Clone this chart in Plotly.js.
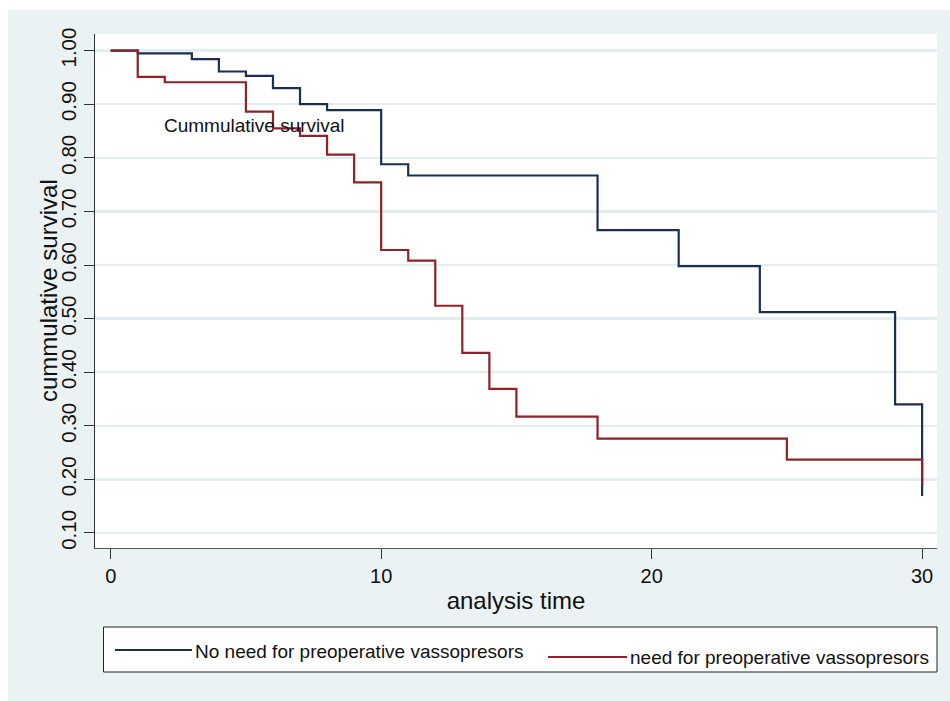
<!DOCTYPE html>
<html>
<head>
<meta charset="utf-8">
<script src="https://cdn.plot.ly/plotly-3.0.1.min.js"></script>
<style>html,body{margin:0;padding:0;background:#fff;}#chart{width:950px;height:701px;}</style>
</head>
<body>
<div id="chart"></div>
<script>
// Kaplan-Meier step data
var timeNoNeed = [0, 1, 3, 4, 5, 6, 7, 8, 10, 11, 18, 21, 24, 29, 30];
var survNoNeed = [1.00, 0.995, 0.984, 0.961, 0.953, 0.930, 0.900, 0.889, 0.788, 0.767, 0.665, 0.598, 0.512, 0.340, 0.169];
var timeNeed = [0, 1, 2, 5, 6, 7, 8, 9, 10, 11, 12, 13, 14, 15, 18, 25, 30];
var survNeed = [1.00, 0.951, 0.941, 0.886, 0.855, 0.841, 0.806, 0.754, 0.628, 0.608, 0.524, 0.436, 0.369, 0.317, 0.276, 0.237, 0.187];
var seriesNames = ["No need for preoperative vassopresors", "need for preoperative vassopresors"];
var xTicks = [0, 10, 20, 30];
var yTicks = [0.1, 0.2, 0.3, 0.4, 0.5, 0.6, 0.7, 0.8, 0.9, 1.0];
var yTickText = ["0.10", "0.20", "0.30", "0.40", "0.50", "0.60", "0.70", "0.80", "0.90", "1.00"];

var BLUE = "#1b2f55", RED = "#8e2228";
var FONT = "Liberation Sans, Arial, sans-serif";

var traces = [
  {x: timeNoNeed, y: survNoNeed, mode: "lines", line: {shape: "hv", color: BLUE, width: 2.2}, name: seriesNames[0], showlegend: false},
  {x: timeNeed, y: survNeed, mode: "lines", line: {shape: "hv", color: RED, width: 2.2}, name: seriesNames[1], showlegend: false}
];

function px(x){ return (x - 95) / 842; }
function py(y){ return (548 - y) / 514; }

var layout = {
  width: 950, height: 701,
  margin: {l: 95, r: 13, t: 34, b: 153},
  paper_bgcolor: "#eaf2f3",
  plot_bgcolor: "#ffffff",
  font: {family: FONT, color: "#111"},
  showlegend: false,
  xaxis: {
    range: [-0.58, 30.55], tickvals: xTicks, ticktext: xTicks.map(String),
    ticks: "outside", ticklen: 10, tickcolor: "#333", tickwidth: 1,
    showgrid: false, zeroline: false, showline: true, linecolor: "#555", linewidth: 1,
    tickfont: {size: 20, family: FONT, color: "#111"},
    title: {text: "analysis time", font: {size: 24, family: FONT, color: "#111"}, standoff: 6}
  },
  yaxis: {
    range: [0.072, 1.031], tickvals: yTicks, ticktext: yTickText, tickangle: -90,
    ticks: "outside", ticklen: 10, tickcolor: "#333", tickwidth: 1,
    showgrid: true, gridcolor: "#e3ecee", gridwidth: 2.5, zeroline: false,
    showline: true, linecolor: "#333", linewidth: 1,
    tickfont: {size: 20.5, family: FONT, color: "#111"},
    title: {text: ""}
  },
  shapes: [
    {type: "rect", xref: "paper", yref: "paper", x0: px(0), x1: px(8), y0: py(701), y1: py(0), fillcolor: "#ffffff", line: {width: 0}},
    {type: "rect", xref: "paper", yref: "paper", x0: px(0), x1: px(950), y0: py(10), y1: py(0), fillcolor: "#ffffff", line: {width: 0}},
    {type: "rect", xref: "paper", yref: "paper", x0: px(103.5), x1: px(937), y0: py(672), y1: py(627), fillcolor: "#ffffff", line: {color: "#222", width: 1}},
    {type: "line", xref: "paper", yref: "paper", x0: px(115), x1: px(192), y0: py(650), y1: py(650), line: {color: BLUE, width: 2.2}},
    {type: "line", xref: "paper", yref: "paper", x0: px(548), x1: px(627), y0: py(657), y1: py(657), line: {color: RED, width: 2.2}}
  ],
  annotations: [
    {xref: "paper", yref: "paper", x: px(48), y: py(291), xanchor: "center", yanchor: "middle", textangle: -90, showarrow: false, text: "cummulative survival", font: {size: 24, family: FONT, color: "#111"}},
    {xref: "x", yref: "y", x: 1.9, y: 0.861, xanchor: "left", yanchor: "middle", showarrow: false, text: "Cummulative survival", font: {size: 19, family: FONT, color: "#111"}},
    {xref: "paper", yref: "paper", x: px(193), y: py(651), xanchor: "left", yanchor: "middle", showarrow: false, text: seriesNames[0], font: {size: 19, family: FONT, color: "#111"}},
    {xref: "paper", yref: "paper", x: px(628), y: py(657), xanchor: "left", yanchor: "middle", showarrow: false, text: seriesNames[1], font: {size: 19, family: FONT, color: "#111"}}
  ]
};

Plotly.newPlot("chart", traces, layout, {displayModeBar: false, staticPlot: true});
</script>
</body>
</html>
